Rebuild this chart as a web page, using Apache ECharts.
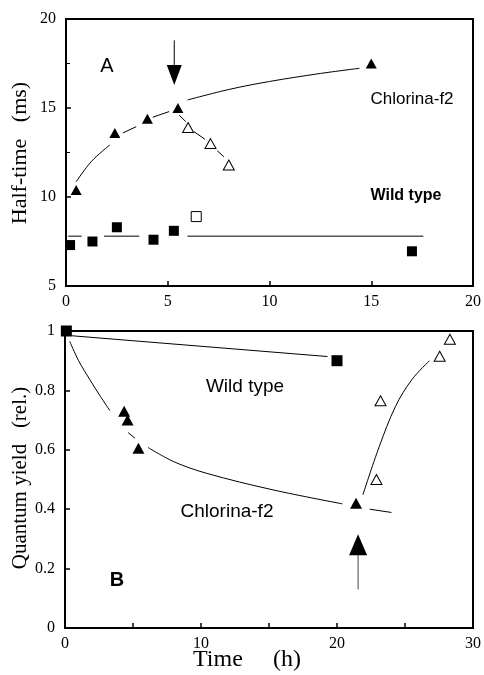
<!DOCTYPE html>
<html>
<head>
<meta charset="utf-8">
<script src="https://cdn.jsdelivr.net/npm/echarts@6/dist/echarts.min.js"></script>
<style>
  html, body { margin: 0; padding: 0; background: #fff; }
  #chart { width: 484px; height: 675px; }
</style>
</head>
<body>
<div id="chart"></div>
<script>
// ---- Panel A: half-time (ms) vs. time (h) ----
const chlorinaA = [[0.5, 10.4], [2.4, 13.6], [4.0, 14.4], [5.5, 15.0], [15.0, 17.5]];
const chlorinaRecoveryA = [[6.0, 13.9], [7.1, 13.0], [8.0, 11.8]];
const wildA = [[0.2, 7.3], [1.3, 7.5], [2.5, 8.3], [4.3, 7.6], [5.3, 8.1], [17.0, 6.95]];
const wildRecoveryA = [[6.4, 8.9]];

// fitted curves, drawn as broken segments
const chlorinaFitA = [
  [[0.5, 10.86], [1.25, 12.0], [2.15, 12.92]],
  [[2.8, 13.6], [3.45, 13.95]],
  [[4.26, 14.48], [5.07, 14.8]],
  [[5.97, 15.45], [8.0, 16.04], [10.0, 16.49], [12.5, 16.94], [14.42, 17.23]]
];
const recoveryFitA = [
  [[5.56, 14.6], [5.89, 14.23]],
  [[6.29, 13.67], [6.83, 13.24]],
  [[7.43, 12.6], [7.76, 12.26]]
];
const wildFitA = [
  [[0.11, 7.8], [0.77, 7.8]],
  [[1.87, 7.8], [3.6, 7.8]],
  [[5.97, 7.8], [17.56, 7.8]]
];
const arrowShaftA = [[5.32, 18.8], [5.32, 17.2]];
const arrowHeadA = [[5.32, 16.85]];
const ticksA_x = { min: 0, max: 20, interval: 5 };
const ticksA_y = { min: 5, max: 20, interval: 5 };

// ---- Panel B: relative quantum yield vs. time (h) ----
const wildB = [[0.1, 1.0], [20.0, 0.9]];
const chlorinaB = [[4.35, 0.73], [4.6, 0.70], [5.4, 0.605], [21.4, 0.42]];
const chlorinaRecoveryB = [[22.9, 0.50], [23.2, 0.765], [27.55, 0.915], [28.3, 0.972]];

const wildFitB = [[[0.5, 0.984], [19.3, 0.914]]];
const chlorinaFitB = [
  [[0.35, 0.965], [1.0, 0.9], [1.83, 0.836], [2.6, 0.78], [3.3, 0.732]],
  [[4.64, 0.658], [5.14, 0.639]],
  [[6.1, 0.608], [8.0, 0.56], [10.4, 0.521], [15.3, 0.465], [20.4, 0.418]],
  [[22.4, 0.40], [24.0, 0.389]]
];
const recoveryFitB = [[[21.9, 0.448], [23.1, 0.61], [24.3, 0.746], [25.5, 0.836], [26.8, 0.90]]];
const arrowShaftB = [[21.55, 0.13], [21.55, 0.26]];
const arrowHeadB = [[21.55, 0.28]];
const ticksB_x = { min: 0, max: 30, interval: 5 };
const ticksB_y = { min: 0, max: 1, interval: 0.2 };

const SERIF = '"Liberation Serif", "Times New Roman", serif';
const SANS = '"Liberation Sans", Arial, sans-serif';

function segments(list, gi, opts) {
  return list.map(seg => ({
    type: 'line', xAxisIndex: gi, yAxisIndex: gi, data: seg,
    showSymbol: false, symbol: 'none', smooth: seg.length > 2 ? 0.35 : false,
    lineStyle: Object.assign({ color: '#000', width: 1, opacity: 1 }, opts || {}),
    silent: true, z: 2, clip: false
  }));
}
function marks(data, gi, symbol, size, filled, extra) {
  return Object.assign({
    type: 'scatter', xAxisIndex: gi, yAxisIndex: gi, data: data,
    symbol: symbol, symbolSize: size, clip: false, z: 5,
    itemStyle: filled
      ? { color: '#000', opacity: 1 }
      : { color: '#fff', borderColor: '#000', borderWidth: 1, opacity: 1 }
  }, extra || {});
}
function xAxisDef(gi, t, labelFn) {
  return {
    type: 'value', gridIndex: gi, min: t.min, max: t.max, interval: t.interval,
    axisLine: { show: true, lineStyle: { color: '#000', width: 2 } },
    axisTick: { show: true, inside: true, length: 5, lineStyle: { color: '#000', width: 1.5 } },
    axisLabel: { color: '#000', fontFamily: SERIF, fontSize: 16, margin: 8,
      showMinLabel: true, showMaxLabel: true, formatter: labelFn },
    splitLine: { show: false }
  };
}
function yAxisDef(gi, t, minor) {
  return {
    type: 'value', gridIndex: gi, min: t.min, max: t.max, interval: t.interval,
    axisLine: { show: true, lineStyle: { color: '#000', width: 2 } },
    axisTick: { show: true, inside: true, length: 5, lineStyle: { color: '#000', width: 1.5 } },
    minorTick: { show: minor, splitNumber: 2, length: 4, lineStyle: { color: '#000', width: 1 } },
    axisLabel: { color: '#000', fontFamily: SERIF, fontSize: 16, margin: 10,
      showMinLabel: true, showMaxLabel: true },
    splitLine: { show: false }, minorSplitLine: { show: false }
  };
}

const chart = echarts.init(document.getElementById('chart'), null, { renderer: 'canvas' });

const series = [].concat(
  // Panel A
  segments(chlorinaFitA, 0),
  segments(recoveryFitA, 0),
  segments(wildFitA, 0),
  segments([arrowShaftA], 0),
  [
    marks(chlorinaA, 0, 'triangle', [11, 10], true),
    marks(chlorinaRecoveryA, 0, 'triangle', [11, 10], false),
    marks(wildA, 0, 'rect', 10, true),
    marks(wildRecoveryA, 0, 'rect', 10, false),
    marks(arrowHeadA, 0, 'triangle', [15, 20], true, { symbolRotate: 180 })
  ],
  // Panel B
  segments(wildFitB, 1),
  segments(chlorinaFitB, 1),
  segments(recoveryFitB, 1),
  segments([arrowShaftB], 1, { color: '#444' }),
  [
    marks(wildB, 1, 'rect', 11, true),
    marks(chlorinaB, 1, 'triangle', [12, 11], true),
    marks(chlorinaRecoveryB, 1, 'triangle', [11, 10], false),
    marks(arrowHeadB, 1, 'triangle', [18, 21], true)
  ]
);

chart.setOption({
  animation: false,
  backgroundColor: '#fff',
  grid: [
    { left: 66, top: 19, width: 410, height: 267, show: true, borderColor: '#000', borderWidth: 2, backgroundColor: 'transparent' },
    { left: 65, top: 331, width: 408, height: 297, show: true, borderColor: '#000', borderWidth: 2, backgroundColor: 'transparent' }
  ],
  xAxis: [
    xAxisDef(0, ticksA_x, v => String(v)),
    xAxisDef(1, ticksB_x, v => (v % 10 === 0 ? String(v) : ''))
  ],
  yAxis: [
    yAxisDef(0, ticksA_y, true),
    yAxisDef(1, ticksB_y, false)
  ],
  series: series,
  graphic: [
    { type: 'text', x: 107, y: 66, style: { text: 'A', font: '20px ' + SANS, fill: '#000', align: 'center', verticalAlign: 'middle' } },
    { type: 'text', x: 412, y: 99, style: { text: 'Chlorina-f2', font: '17px ' + SANS, fill: '#000', align: 'center', verticalAlign: 'middle' } },
    { type: 'text', x: 406, y: 196, style: { text: 'Wild type', font: 'bold 16px ' + SANS, fill: '#000', align: 'center', verticalAlign: 'middle' } },
    { type: 'text', x: 20, y: 153, rotation: Math.PI / 2, style: { text: 'Half-time   (ms)', font: '22px ' + SERIF, fill: '#000', align: 'center', verticalAlign: 'middle' } },

    { type: 'text', x: 117, y: 580, style: { text: 'B', font: 'bold 20px ' + SANS, fill: '#000', align: 'center', verticalAlign: 'middle' } },
    { type: 'text', x: 245, y: 387, style: { text: 'Wild type', font: '19px ' + SANS, fill: '#000', align: 'center', verticalAlign: 'middle' } },
    { type: 'text', x: 227, y: 512, style: { text: 'Chlorina-f2', font: '19px ' + SANS, fill: '#000', align: 'center', verticalAlign: 'middle' } },
    { type: 'text', x: 20, y: 478, rotation: Math.PI / 2, style: { text: 'Quantum yield   (rel.)', font: '21px ' + SERIF, fill: '#000', align: 'center', verticalAlign: 'middle' } },
    { type: 'text', x: 193, y: 660, style: { text: 'Time', font: '24px ' + SERIF, fill: '#000', align: 'left', verticalAlign: 'middle' } },
    { type: 'text', x: 273, y: 660, style: { text: '(h)', font: '24px ' + SERIF, fill: '#000', align: 'left', verticalAlign: 'middle' } }
  ]
});
</script>
</body>
</html>
